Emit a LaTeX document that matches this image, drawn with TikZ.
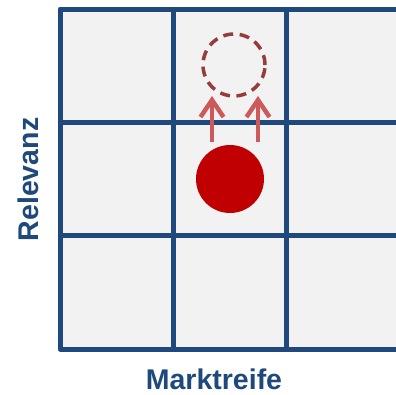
\documentclass[tikz,border=0pt]{standalone}
\usepackage{fontspec}
\setmainfont{Liberation Sans}
\usetikzlibrary{arrows.meta}
\definecolor{gridblue}{RGB}{31,73,125}
\definecolor{cellgrey}{RGB}{242,242,242}
\definecolor{dotred}{RGB}{192,0,0}
\definecolor{dashred}{RGB}{150,60,60}
\definecolor{arrowred}{RGB}{205,90,90}
\tikzset{
  gridline/.style={draw=gridblue, line width=5pt},
  axislabel/.style={text=gridblue, font=\fontsize{28.5}{34}\selectfont\bfseries, inner sep=0pt, text depth=0pt},
  nowdot/.style={circle, fill=dotred, minimum size=68pt, inner sep=0pt},
  targetring/.style={circle, draw=dashred, line width=3.5pt, dash pattern=on 10pt off 6.5pt, minimum size=62pt, inner sep=0pt},
  moveup/.style={draw=arrowred, line width=4.5pt, -{Straight Barb[length=17pt, width=23pt]}}
}
\begin{document}
\begin{tikzpicture}[x=1pt,y=-1pt]
\useasboundingbox (0,0) rectangle (396,394);
\begin{scope}
\clip (0,0) rectangle (396,394);
\fill[cellgrey] (60,9) rectangle (399,349);
\foreach \xx in {173,286} \draw[gridline] (\xx,9) -- (\xx,349);
\foreach \yy in {122.3,235.7} \draw[gridline] (60,\yy) -- (399,\yy);
\draw[gridline, line join=round] (60,9) rectangle (399,349);
\end{scope}
\node[nowdot] (now) at (230,179) {};
\node[targetring] (goal) at (234,65) {};
\coordinate (l0) at (212,142);
\coordinate (l1) at (212,96);
\coordinate (r0) at (258,142);
\coordinate (r1) at (258,96);
\draw[moveup] (l0) -- (l1);
\draw[moveup] (r0) -- (r1);
\node[axislabel, anchor=base] (xlab) at (214,389.5) {Marktreife};
\node[axislabel, anchor=base, rotate=90] (ylab) at (38,179.5) {Relevanz};
\end{tikzpicture}
\end{document}
